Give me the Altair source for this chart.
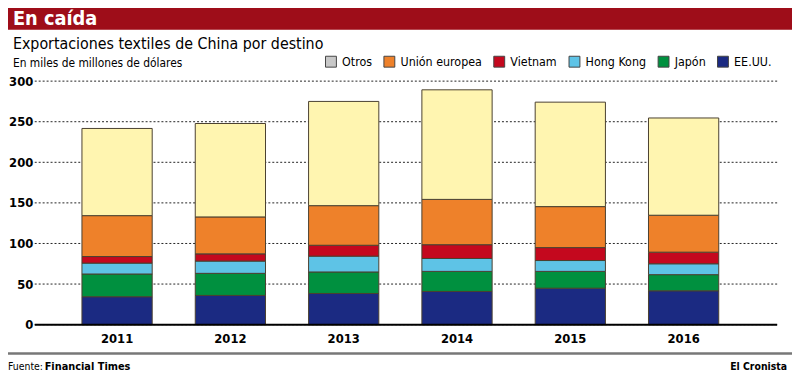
import altair as alt
import pandas as pd

# ---- data ----
years = ["2011", "2012", "2013", "2014", "2015", "2016"]
series = ["EE.UU.", "Japón", "Hong Kong", "Vietnam", "Unión europea", "Otros"]
eeuu = [34.4, 36.0, 38.4, 40.9, 44.9, 41.7]
japon = [28.0, 27.2, 26.5, 24.7, 20.7, 19.9]
hong_kong = [13.4, 15.1, 19.5, 15.9, 13.4, 13.4]
vietnam = [8.1, 8.9, 13.4, 17.0, 15.9, 14.3]
union_europea = [50.4, 45.5, 48.8, 55.8, 50.5, 45.5]
otros = [107.4, 115.1, 128.4, 135.0, 128.7, 119.8]
y_ticks = [0, 50, 100, 150, 200, 250, 300]

legend_order = ["Otros", "Unión europea", "Vietnam", "Hong Kong", "Japón", "EE.UU."]

# ---- styles ----
bar_colors = ["#1b2a82", "#00903f", "#5ec3e6", "#c4081e", "#ee812a", "#fff5b0"]
legend_colors = ["#c8c8c8", "#ee812a", "#c4081e", "#5ec3e6", "#00903f", "#1b2a82"]
FONT = "'DejaVu Sans Condensed', 'DejaVu Sans', sans-serif"

values_by_series = [eeuu, japon, hong_kong, vietnam, union_europea, otros]
rows = []
for si, (s, vals) in enumerate(zip(series, values_by_series)):
    for y, v in zip(years, vals):
        rows.append({"year": y, "serie": s, "value": v, "idx": si})
df = pd.DataFrame(rows)

one = pd.DataFrame({"a": [0]})

y_scale = alt.Scale(domain=[0, 300], nice=False)
y_axis = alt.Axis(
    title=None, values=y_ticks, ticks=False, domain=False, grid=False,
    labelFont=FONT, labelFontSize=13, labelFontWeight="bold",
    labelColor="black", labelPadding=2,
)

grid = alt.Chart(pd.DataFrame({"tick": y_ticks})).mark_rule(
    color="#222222", strokeWidth=1, strokeDash=[2, 2]
).encode(
    y=alt.Y("tick:Q", scale=y_scale, axis=y_axis),
    x=alt.value(0), x2=alt.value(750),
)

bars = alt.Chart(df).mark_bar(stroke="#4a4030", strokeWidth=1).encode(
    x=alt.X(
        "year:N",
        sort=years,
        scale=alt.Scale(range=[47.7, 691], paddingInner=0.38, paddingOuter=0),
        axis=alt.Axis(
            title=None, labelAngle=0, ticks=False, domain=False, grid=False,
            labelFont=FONT, labelFontSize=13, labelFontWeight="bold",
            labelColor="black", labelPadding=8,
        ),
    ),
    y=alt.Y("value:Q", stack="zero", scale=y_scale, axis=y_axis),
    color=alt.Color("serie:N", scale=alt.Scale(domain=series, range=bar_colors), legend=None),
    order=alt.Order("idx:Q"),
)

legend_layer = alt.Chart(pd.DataFrame({"serie": legend_order})).mark_square(size=0, opacity=0).encode(
    color=alt.Color(
        "serie:N",
        scale=alt.Scale(domain=legend_order, range=legend_colors),
        legend=alt.Legend(
            title=None, orient="none", legendX=293, legendY=-26,
            direction="horizontal", columns=6, symbolType="square",
            symbolSize=121, symbolOpacity=1, symbolStrokeColor="#444444",
            symbolStrokeWidth=1, labelFont=FONT, labelFontSize=12.5,
            labelColor="black", labelOffset=5, columnPadding=9, padding=0,
        ),
    )
)

baseline = alt.Chart(one).mark_rule(color="black", strokeWidth=2).encode(
    y=alt.datum(0), x=alt.value(0), x2=alt.value(750)
)

header = alt.Chart(one).mark_rect(color="#9e0d19").encode(
    x=alt.value(-35), x2=alt.value(765), y=alt.value(-80), y2=alt.value(-52)
)
title = alt.Chart(one).mark_text(
    text="En caída", font=FONT, fontSize=20, fontWeight="bold", color="white",
    align="left", baseline="alphabetic",
).encode(x=alt.value(-22), y=alt.value(-57))

subtitle = alt.Chart(one).mark_text(
    text="Exportaciones textiles de China por destino", font=FONT, fontSize=16,
    color="black", align="left", baseline="alphabetic",
).encode(x=alt.value(-22), y=alt.value(-32))

units = alt.Chart(one).mark_text(
    text="En miles de millones de dólares", font=FONT, fontSize=12,
    color="black", align="left", baseline="alphabetic",
).encode(x=alt.value(-22), y=alt.value(-14))

footer_line = alt.Chart(one).mark_rect(color="#777777").encode(
    x=alt.value(-35), x2=alt.value(765), y=alt.value(274), y2=alt.value(276.5)
)
fuente = alt.Chart(one).mark_text(
    text="Fuente:", font=FONT, fontSize=10.5, color="black", align="left", baseline="alphabetic",
).encode(x=alt.value(-27), y=alt.value(292))
ft = alt.Chart(one).mark_text(
    text="Financial Times", font=FONT, fontSize=11, fontWeight="bold", color="black",
    align="left", baseline="alphabetic",
).encode(x=alt.value(10), y=alt.value(292))
cronista = alt.Chart(one).mark_text(
    text="El Cronista", font=FONT, fontSize=10.5, fontWeight="bold", color="black",
    align="right", baseline="alphabetic",
).encode(x=alt.value(760), y=alt.value(292))

chart = alt.layer(
    grid, bars, baseline, legend_layer, header, title, subtitle, units,
    footer_line, fuente, ft, cronista,
).resolve_scale(color="independent").properties(
    width=750, height=246,
    autosize=alt.AutoSizeParams(type="none"),
    padding={"left": 27, "top": 72, "right": 15, "bottom": 50},
    background="white",
).configure_view(stroke=None)

chart.save("out.html", embed_options={"renderer": "svg", "actions": False})
